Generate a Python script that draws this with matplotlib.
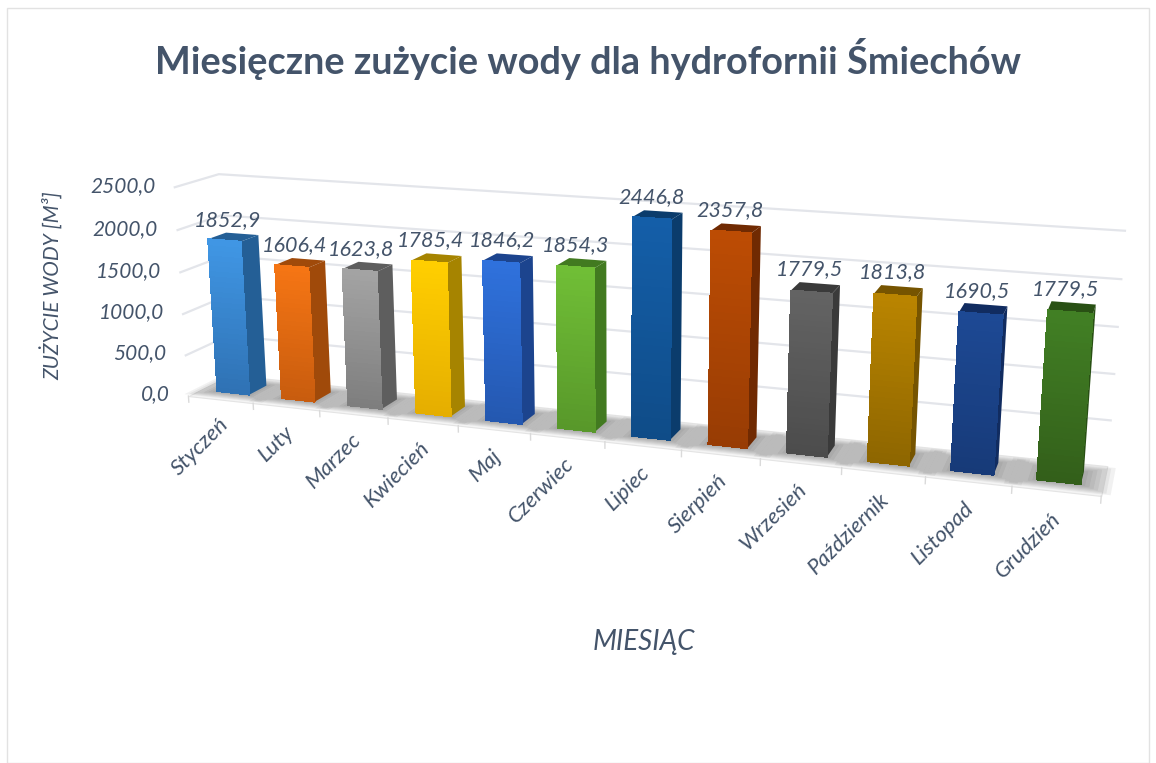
import numpy as np
import matplotlib
matplotlib.use('Agg')
import matplotlib.pyplot as plt
from matplotlib.colors import to_rgb
from matplotlib.patches import Rectangle
from mpl_toolkits.mplot3d import proj3d
from mpl_toolkits.mplot3d.art3d import Poly3DCollection

months = ['Styczeń', 'Luty', 'Marzec', 'Kwiecień', 'Maj', 'Czerwiec', 'Lipiec',
          'Sierpień', 'Wrzesień', 'Październik', 'Listopad', 'Grudzień']
values = [1852.9, 1606.4, 1623.8, 1785.4, 1846.2, 1854.3, 2446.8, 2357.8,
          1779.5, 1813.8, 1690.5, 1779.5]
value_ticks = [0, 500, 1000, 1500, 2000, 2500]
face_top = ['#4096E4', '#F57514', '#A3A3A3', '#FFCE00', '#2F71DC', '#70BE36',
            '#145EA8', '#BC4C04', '#636363', '#B98400', '#1D4994', '#417F24']
face_bot = ['#2F72B4', '#C85C0E', '#7E7E7E', '#E5AE00', '#2458B0', '#58982A',
            '#0F4C88', '#983C04', '#4C4C4C', '#8E6600', '#173A78', '#335F1A']
side_col = ['#245F96', '#A04A0A', '#5E5E5E', '#A68400', '#1C448E', '#427A20',
            '#0B3C6C', '#702A02', '#3A3A3A', '#765400', '#112C60', '#295014']

dark = '#44546A'
plt.rcParams['font.family'] = ['Lato', 'DejaVu Sans']

W, H = 1156, 763
S = 956
cx, cy = 606, 333

fig = plt.figure(figsize=(W / 100, H / 100), dpi=100)
fig.patches.append(Rectangle((7 / W, 0), (W - 14) / W, 1 - 8 / H, transform=fig.transFigure,
                             fc='none', ec='#E2E2E2', lw=1))
ax = fig.add_axes([(cx - S / 2) / W, 1 - (cy + S / 2) / H, S / W, S / H],
                  projection='3d', computed_zorder=False)
ax.patch.set_alpha(0)
ax.set_axis_off()
ax.set_xlim(0, 12, view_margin=0)
ax.set_ylim(0, 1, view_margin=0)
ax.set_zlim(0, 2500, view_margin=0)
ax.set_box_aspect((910, 82, 218))
ax.view_init(elev=14.5, azim=-71.1)
ax.set_proj_type('persp', focal_length=0.333)


def label(x, y, z, s, **kw):
    px, py, _ = proj3d.proj_transform(x, y, z, ax.get_proj())
    ax.text2D(px, py, s, transform=ax.transData, style='italic', color=dark, zorder=40, **kw)


def polys(verts, **kw):
    ax.add_collection3d(Poly3DCollection(verts, clip_on=False, **kw))


# floor
floor = [[(0, 0, 0), (12, 0, 0), (12, 1, 0), (0, 1, 0)]]
polys(floor, facecolor='#F4F4F4', edgecolor='#E4E4E4', lw=0.8, zorder=1)

# grid on the walls
for v in value_ticks[1:]:
    ax.plot([0, 0, 12], [0, 1, 1], [v, v, v], color='#E3E5EA', lw=1.6, zorder=2, clip_on=False)
for i in range(13):
    ax.plot([i, i], [0, 0], [0, -75], color='#DADADA', lw=1, zorder=2, clip_on=False)

y0, y1 = 0.30, 0.72
for i, v in enumerate(values):
    x0, x1 = i + 0.25, i + 0.75
    # soft shadow on the floor
    for k in range(1, 8):
        dx, dy = 0.05 * k, 0.035 * k
        sh = [[(x0 - dx, y0 - dy, 0), (x1 + dx, y0 - dy, 0), (x1 + dx, y1 + dy, 0), (x0 - dx, y1 + dy, 0)]]
        polys(sh, facecolor='#505050', alpha=0.08, edgecolor='none', zorder=3)
    zs = np.linspace(0, v, 31)
    c0, c1 = np.array(to_rgb(face_bot[i])), np.array(to_rgb(face_top[i]))
    strips = [[(x0, y0, a), (x1, y0, a), (x1, y0, b), (x0, y0, b)] for a, b in zip(zs[:-1], zs[1:])]
    cols = [c0 + (c1 - c0) * t for t in np.linspace(0, 1, 30)]
    side = [[(x1, y0, 0), (x1, y1, 0), (x1, y1, v), (x1, y0, v)]]
    top = [[(x0, y0, v), (x1, y0, v), (x1, y1, v), (x0, y1, v)]]
    z = 10 + i
    polys(side, facecolor=side_col[i], edgecolor='none', zorder=z)
    polys(top, facecolor=side_col[i], edgecolor='none', zorder=z)
    polys(strips, facecolors=cols, edgecolors=cols, lw=0.5, antialiased=False, zorder=z)
    label(i + 0.42, 0.5, v + 85, str(v).replace('.', ','), ha='center', va='bottom', fontsize=15.5)
    label(i + 0.45, 0, -190, months[i], ha='right', va='top', rotation=45, rotation_mode='anchor', fontsize=16)

for v in value_ticks:
    label(-0.3, 0, v, ('%.1f' % v).replace('.', ','), ha='right', va='center', fontsize=15)

fig.text(588 / W, 1 - 59 / H, 'Miesięczne zużycie wody dla hydrofornii Śmiechów', ha='center', va='center',
         fontsize=27.3, fontweight='bold', color=dark)
fig.text(644 / W, 1 - 642 / H, 'MIESIĄC', ha='center', va='center', style='italic', fontsize=20, color=dark)
fig.text(52 / W, 1 - 286 / H, 'ZUŻYCIE WODY [M³]', ha='center', va='center', rotation=90, style='italic',
         fontsize=15, color=dark)

fig.savefig('out.png', dpi=100)
